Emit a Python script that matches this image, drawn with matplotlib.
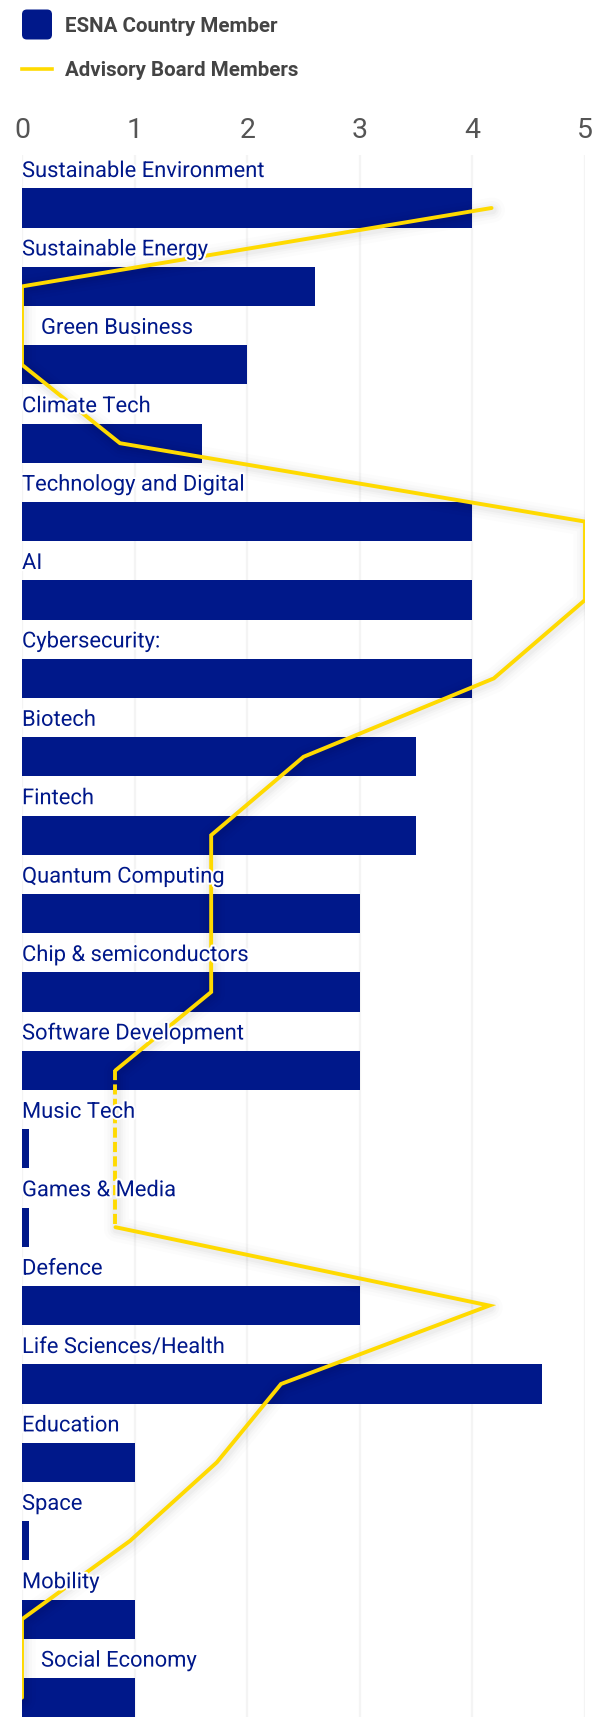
import matplotlib
matplotlib.use("Agg")
import matplotlib.pyplot as plt
import matplotlib.patheffects as pe
import matplotlib.transforms as mtransforms
from matplotlib.patches import FancyBboxPatch
from matplotlib.lines import Line2D

# Sector data
categories = [
    "Sustainable Environment", "Sustainable Energy", "Green Business", "Climate Tech",
    "Technology and Digital", "AI", "Cybersecurity:", "Biotech", "Fintech",
    "Quantum Computing", "Chip & semiconductors", "Software Development",
    "Music Tech", "Games & Media", "Defence", "Life Sciences/Health",
    "Education", "Space", "Mobility", "Social Economy",
]
country_members = [4, 2.6, 2, 1.6, 4, 4, 4, 3.5, 3.5, 3, 3, 3,
                   0.06, 0.06, 3, 4.62, 1, 0.06, 1, 1]
advisory_members = [4.17, 0, 0, 0.87, 5, 5, 4.19, 2.5, 1.68, 1.68, 1.68, 0.83,
                    0.83, 0.83, 4.15, 2.3, 1.73, 0.96, 0, 0]
x_ticks = [0, 1, 2, 3, 4, 5]
series_names = ["ESNA Country Member", "Advisory Board Members"]

# Labels shifted right so the advisory line does not run through them
indented = {"Green Business", "Social Economy"}
# Stretch of the advisory line drawn dashed (between these category indices)
dashed_span = (11, 13)

NAVY = "#00188A"
YELLOW = "#FFDA00"
LABEL_GREY = "#444444"
TICK_GREY = "#555555"

W, H = 607, 1717
fig = plt.figure(figsize=(W / 100, H / 100), dpi=100)
fig.patch.set_facecolor("white")

# Plot area in pixels
x0_px, x5_px = 22, 585
top_px, pitch_px = 155, 78.4
first_center_px = 208
n = len(categories)
y_top = -0.5 - ((first_center_px - pitch_px / 2) - top_px) / pitch_px
bottom_px = first_center_px + (n - 1) * pitch_px + pitch_px / 2
ax = fig.add_axes([x0_px / W, 1 - bottom_px / H,
                   (x5_px - x0_px) / W, (bottom_px - top_px) / H])
ax.set_xlim(0, 5)
ax.set_ylim(n - 0.5, y_top)
for s in ax.spines.values():
    s.set_visible(False)

ax.set_xticks(x_ticks)
ax.set_xticklabels([str(t) for t in x_ticks], fontfamily="Roboto",
                   fontweight="normal", fontsize=20.5, color=TICK_GREY)
ax.tick_params(axis="x", top=True, labeltop=True, bottom=False,
               labelbottom=False, length=0, pad=8)
ax.set_yticks([])
ax.grid(axis="x", color="#f4f4f4", linewidth=1.6, zorder=0)
ax.set_axisbelow(True)

ypos = list(range(n))
ax.barh(ypos, country_members, height=0.5, color=NAVY, zorder=2)

# Advisory line with a soft shadow
shift = ax.transData + mtransforms.ScaledTranslation(1 / 100, -2 / 100,
                                                     fig.dpi_scale_trans)
for w, a in [(18, 0.012), (13, 0.016), (9, 0.02), (6, 0.025)]:
    ax.plot(advisory_members, ypos, color="black", linewidth=w, alpha=a,
            solid_joinstyle="round", solid_capstyle="round", zorder=3,
            transform=shift)
LW = 2.8
a, b = dashed_span
ax.plot(advisory_members[:a + 1], ypos[:a + 1], color=YELLOW, linewidth=LW,
        solid_joinstyle="miter", solid_capstyle="round", zorder=4)
ax.plot(advisory_members[a:b + 1], ypos[a:b + 1], color=YELLOW, linewidth=LW,
        linestyle=(0, (2.6, 1.1)), zorder=4)
ax.plot(advisory_members[b:], ypos[b:], color=YELLOW, linewidth=LW,
        solid_joinstyle="miter", solid_capstyle="round", zorder=4)

# Category labels above each bar
label_dy = (first_center_px - 177) / pitch_px
for i, name in enumerate(categories):
    dx = 19 / (x5_px - x0_px) * 5 if name in indented else 0
    ax.text(dx, i - label_dy, name, fontfamily="Roboto", fontsize=15.8,
            color=NAVY, va="baseline", ha="left", zorder=5,
            path_effects=[pe.withStroke(linewidth=3, foreground="white")])

# Legend
fig.patches.append(FancyBboxPatch((22 / W, 1 - 39.5 / H), 30 / W, 30 / H,
                                  boxstyle="round,pad=0,rounding_size=0.008",
                                  transform=fig.transFigure, facecolor=NAVY,
                                  edgecolor="none", mutation_aspect=W / H))
fig.add_artist(Line2D([22 / W, 52 / W], [1 - 69 / H, 1 - 69 / H],
                      transform=fig.transFigure, color=YELLOW, linewidth=2.6))
fig.text(65 / W, 1 - 32.5 / H, series_names[0], fontfamily="Roboto",
         fontweight="bold", fontsize=14.8, color=LABEL_GREY, va="baseline")
fig.text(65 / W, 1 - 76.5 / H, series_names[1], fontfamily="Roboto",
         fontweight="bold", fontsize=14.8, color=LABEL_GREY, va="baseline")

fig.savefig("out.png", dpi=100, facecolor="white")
